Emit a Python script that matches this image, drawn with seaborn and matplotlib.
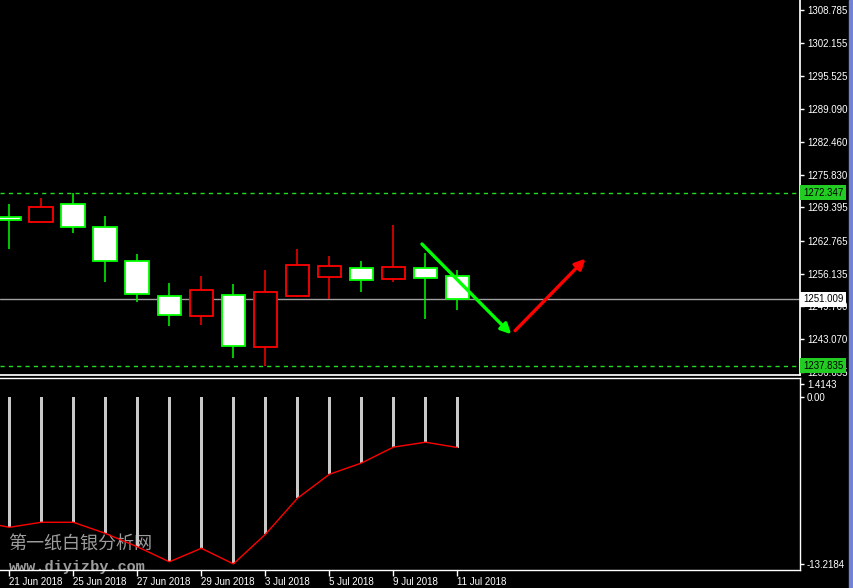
import matplotlib
matplotlib.use("Agg")
import matplotlib.pyplot as plt
from matplotlib.patches import Rectangle
import numpy as np
import seaborn as sns

# daily XAUUSD-style bars
dates = ["21 Jun 2018", "22 Jun 2018", "25 Jun 2018", "26 Jun 2018", "27 Jun 2018",
         "28 Jun 2018", "29 Jun 2018", "2 Jul 2018", "3 Jul 2018", "4 Jul 2018",
         "5 Jul 2018", "6 Jul 2018", "9 Jul 2018", "10 Jul 2018", "11 Jul 2018"]
opens = [1267.40, 1266.40, 1269.99, 1265.41, 1258.63, 1251.65, 1247.66, 1251.85,
         1241.47, 1251.77, 1255.44, 1257.23, 1255.16, 1257.23, 1255.63]
highs = [1270.05, 1271.25, 1272.347, 1267.66, 1260.08, 1254.30, 1255.69, 1254.10,
         1256.89, 1261.08, 1259.68, 1258.69, 1265.87, 1260.22, 1256.89]
lows = [1261.14, 1266.40, 1264.33, 1254.56, 1250.57, 1245.78, 1245.98, 1239.40,
        1237.835, 1251.60, 1251.11, 1252.56, 1254.56, 1247.18, 1248.97]
closes = [1266.80, 1269.40, 1265.41, 1258.63, 1252.04, 1247.86, 1252.84, 1241.67,
          1252.44, 1257.83, 1257.63, 1254.84, 1257.43, 1255.24, 1251.009]

# oscillator in the lower window
osma = [-10.32, -9.92, -9.92, -10.80, -11.86, -13.05, -11.98, -13.2184,
        -10.87, -8.02, -6.12, -5.23, -3.97, -3.58, -4.00]
osma_prev = -9.82

high_level = 1272.347
low_level = 1237.835
last_price = 1251.009

price_ticks = [1308.785, 1302.155, 1295.525, 1289.090, 1282.460, 1275.830,
               1269.395, 1262.765, 1256.135, 1249.700, 1243.070, 1236.635]
osc_labels = ["1.4143", "0.00", "-13.2184"]

# hand drawn arrows on the chart
green_arrow_x = [12.89, 15.68]
green_arrow_y = [1262.08, 1244.07]
red_arrow_x = [15.80, 18.00]
red_arrow_y = [1244.79, 1259.15]

sns.set_theme(style="dark", rc={
    "axes.facecolor": "black", "figure.facecolor": "black",
    "axes.edgecolor": "white", "xtick.color": "white", "ytick.color": "white",
    "text.color": "white", "axes.grid": False,
})
plt.rcParams["font.family"] = ["Liberation Sans", "DejaVu Sans"]

W, H = 854, 588
fig = plt.figure(figsize=(W / 100, H / 100), dpi=100)
ax1 = fig.add_axes([0, 1 - 375 / H, 800 / W, 375 / H])
ax2 = fig.add_axes([0, 1 - 570 / H, 800 / W, (570 - 377.7) / H])

idx = np.arange(len(dates))
xlim = (-0.29, 24.7)

# candles
for i in idx:
    o, h, l, c = opens[i], highs[i], lows[i], closes[i]
    bull = c > o
    col = "#ff0000" if bull else "#00ff00"
    fill = "black" if bull else "white"
    ax1.vlines(i, l, h, color=col, lw=1.1, zorder=2)
    ax1.bar(i, abs(c - o), bottom=min(o, c), width=0.74, color=fill,
            edgecolor=col, linewidth=1.3, zorder=3)

ax1.axhline(high_level, color="#22dd22", lw=1, ls=(0, (3, 3)), zorder=1)
ax1.axhline(low_level, color="#22dd22", lw=1, ls=(0, (3, 3)), zorder=1)
ax1.axhline(last_price, color="#a0a0a0", lw=1, zorder=1)

for xs, ys, col in [(green_arrow_x, green_arrow_y, "#00ff00"),
                    (red_arrow_x, red_arrow_y, "#ff0000")]:
    ax1.annotate("", xy=(xs[1], ys[1]), xytext=(xs[0], ys[0]),
                 arrowprops=dict(arrowstyle="-|>,head_length=0.5,head_width=0.25",
                                 color=col, lw=2.4, mutation_scale=12,
                                 shrinkA=0, shrinkB=0),
                 zorder=5)

ax1.set_xlim(*xlim)
ax1.set_ylim(1235.95, 1310.74)
ax1.yaxis.tick_right()
ax1.set_yticks(price_ticks)
ax1.set_yticklabels([f"{v:.3f}" for v in price_ticks])
ax1.tick_params(axis="y", which="both", direction="out", length=3, width=1,
                pad=2, labelsize=7, colors="white", right=True, left=False)
ax1.set_xticks([])
for s in ["left", "top"]:
    ax1.spines[s].set_visible(False)
ax1.spines["right"].set_color("white")
ax1.spines["bottom"].set_color("white")

tr = ax1.get_yaxis_transform()
for val, bg in [(high_level, "#22cc22"), (low_level, "#22cc22"), (last_price, "white")]:
    ax1.text(1.004, val, f"{val:.3f}", transform=tr, ha="left", va="center",
             fontsize=7, color="black", clip_on=False, zorder=6,
             bbox=dict(boxstyle="square,pad=0.3", fc=bg, ec="none"))

# oscillator window
sns.barplot(x=idx, y=osma, native_scale=True, width=0.1, color="#c8c8c8",
            saturation=1, linewidth=0, ax=ax2, zorder=1)
sns.lineplot(x=np.concatenate([[-1], idx]), y=[osma_prev] + osma, color="#ff0000",
             lw=1, ax=ax2, zorder=2)
ax2.set_xlim(*xlim)
ax2.set_ylim(-13.70, 1.528)
ax2.yaxis.tick_right()
ax2.set_yticks([1.04, 0, -13.2184])
ax2.set_yticklabels(osc_labels)
ax2.tick_params(axis="y", direction="out", length=3, width=1, pad=2,
                labelsize=7, colors="white", right=True, left=False)
ax2.set_xticks(idx[::2])
ax2.set_xticklabels(dates[::2], ha="left")
ax2.tick_params(axis="x", direction="out", length=4, width=1, pad=1,
                labelsize=7, colors="white", bottom=True)
ax2.set_xlabel("")
ax2.set_ylabel("")
ax1.set_ylabel("")
ax2.spines["left"].set_visible(False)
for s in ["top", "right", "bottom"]:
    ax2.spines[s].set_color("white")
    ax2.spines[s].set_linewidth(1)

# watermark sits behind the bars
ax2.text(8 / W, 1 - 545 / H, "第一纸白银分析网", transform=fig.transFigure,
         fontsize=13, color="#9c9c9c", ha="left", va="center", zorder=0.5,
         family=["Noto Sans CJK SC", "DejaVu Sans"], clip_on=False)
ax2.text(9 / W, 1 - 567 / H, "www.diyizby.com", transform=fig.transFigure,
         fontsize=11, color="#9c9c9c", ha="left", va="center", zorder=0.5,
         family="Liberation Mono", fontweight="bold", clip_on=False)

# scrollbar strip at the right edge
fig.patches.append(Rectangle((849 / W, 0), 5 / W, 1, transform=fig.transFigure,
                             color="#7282d4", zorder=0))

fig.savefig("out.png", dpi=100, facecolor="black")
